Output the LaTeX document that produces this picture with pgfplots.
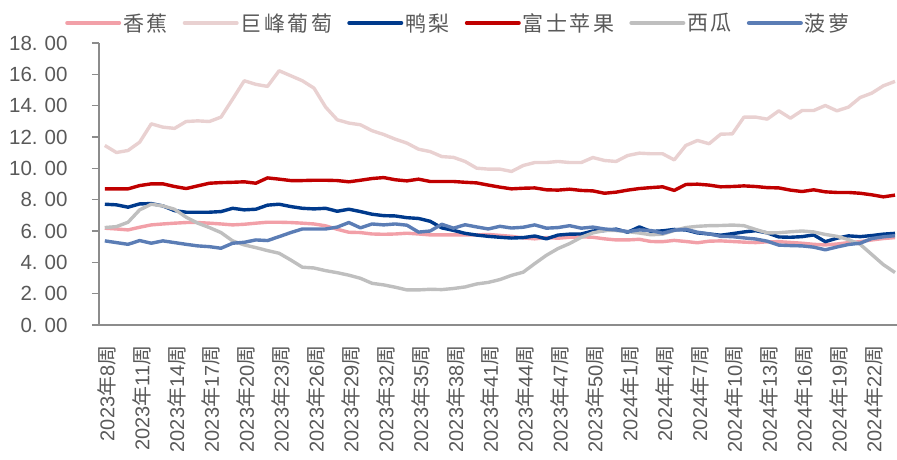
\documentclass[border=0pt]{standalone}
\usepackage{fontspec}
\setmainfont{Liberation Sans}
\newfontfamily\cjk{Noto Sans CJK SC}
\newfontfamily\cjkleg[LetterSpace=12]{Noto Sans CJK SC}
\usepackage{pgfplots}
\usepackage{pgfplotstable}
\pgfplotsset{compat=1.18}
\definecolor{cBanana}{RGB}{242,160,168}
\definecolor{cGrape}{RGB}{233,209,209}
\definecolor{cPear}{RGB}{0,58,140}
\definecolor{cApple}{RGB}{192,0,0}
\definecolor{cMelon}{RGB}{191,191,191}
\definecolor{cPine}{RGB}{91,125,181}
\definecolor{txt}{RGB}{89,89,89}
\definecolor{axc}{RGB}{140,140,140}
\newcommand\nian{{\cjk 年}}
\newcommand\zhou{{\cjk 周}}
\newcommand\yl[2]{#1.\hspace{7pt}#2}
\pgfplotstableread{
i banana grape pear apple melon pine
0 6.18 11.46 7.71 8.69 6.22 5.37
1 6.13 11.01 7.67 8.69 6.28 5.26
2 6.07 11.14 7.52 8.69 6.56 5.15
3 6.24 11.67 7.73 8.90 7.35 5.39
4 6.39 12.84 7.75 9.01 7.71 5.22
5 6.45 12.63 7.60 9.01 7.60 5.37
6 6.50 12.55 7.30 8.84 7.39 5.26
7 6.54 12.99 7.20 8.71 6.88 5.15
8 6.54 13.03 7.20 8.88 6.50 5.05
9 6.50 12.99 7.20 9.05 6.22 5.00
10 6.45 13.27 7.24 9.09 5.90 4.90
11 6.39 14.42 7.45 9.11 5.37 5.22
12 6.43 15.59 7.35 9.14 5.11 5.28
13 6.50 15.36 7.39 9.05 4.94 5.43
14 6.56 15.23 7.65 9.39 4.75 5.39
15 6.56 16.23 7.71 9.31 4.58 5.64
16 6.54 15.91 7.56 9.22 4.15 5.90
17 6.50 15.59 7.45 9.22 3.69 6.13
18 6.45 15.12 7.41 9.24 3.64 6.13
19 6.33 13.91 7.45 9.24 3.47 6.13
20 6.11 13.10 7.26 9.22 3.34 6.25
21 5.92 12.89 7.39 9.14 3.18 6.54
22 5.90 12.78 7.24 9.24 2.98 6.20
23 5.81 12.40 7.07 9.35 2.66 6.45
24 5.79 12.16 6.98 9.41 2.56 6.39
25 5.81 11.86 6.96 9.27 2.41 6.45
26 5.86 11.61 6.85 9.20 2.24 6.37
27 5.81 11.22 6.80 9.31 2.24 5.93
28 5.75 11.07 6.62 9.16 2.28 6.00
29 5.75 10.75 6.20 9.16 2.26 6.43
30 5.75 10.70 6.04 9.16 2.33 6.18
31 5.75 10.44 5.85 9.11 2.43 6.40
32 5.75 10.01 5.74 9.07 2.62 6.26
33 5.78 9.95 5.66 8.93 2.72 6.13
34 5.72 9.95 5.60 8.80 2.90 6.30
35 5.66 9.80 5.55 8.69 3.17 6.19
36 5.56 10.18 5.58 8.73 3.37 6.24
37 5.50 10.37 5.68 8.75 3.92 6.39
38 5.58 10.37 5.50 8.63 4.45 6.18
39 5.54 10.44 5.74 8.61 4.88 6.22
40 5.60 10.37 5.80 8.67 5.20 6.34
41 5.63 10.37 5.81 8.59 5.60 6.18
42 5.60 10.69 6.00 8.56 5.88 6.25
43 5.50 10.50 6.03 8.41 6.03 6.13
44 5.43 10.44 6.12 8.48 6.03 6.07
45 5.43 10.82 5.92 8.61 5.96 5.96
46 5.47 10.97 6.26 8.71 5.87 6.07
47 5.33 10.93 5.97 8.77 5.76 6.03
48 5.32 10.93 6.01 8.82 5.80 5.86
49 5.40 10.54 6.10 8.59 6.03 6.05
50 5.33 11.46 6.07 8.97 6.22 6.11
51 5.25 11.78 5.88 8.99 6.30 5.92
52 5.35 11.57 5.81 8.93 6.34 5.82
53 5.37 12.18 5.73 8.82 6.35 5.66
54 5.33 12.20 5.83 8.84 6.38 5.64
55 5.29 13.27 5.94 8.88 6.34 5.56
56 5.26 13.27 6.02 8.84 6.10 5.49
57 5.31 13.14 5.88 8.77 5.88 5.35
58 5.32 13.67 5.62 8.75 5.89 5.10
59 5.27 13.20 5.60 8.61 5.95 5.07
60 5.22 13.69 5.64 8.52 6.00 5.05
61 5.15 13.69 5.75 8.63 5.94 4.97
62 5.11 14.01 5.32 8.50 5.78 4.80
63 5.17 13.67 5.54 8.46 5.66 4.98
64 5.26 13.91 5.69 8.46 5.45 5.14
65 5.32 14.52 5.64 8.41 5.15 5.22
66 5.43 14.80 5.71 8.31 4.50 5.52
67 5.52 15.27 5.80 8.18 3.85 5.63
68 5.58 15.55 5.85 8.29 3.35 5.70
}\datatable
\begin{document}
\begin{tikzpicture}
\begin{axis}[
  at={(0,0)}, anchor=south west,
  scale only axis, width=798pt, height=282pt,
  xmin=-0.5, xmax=68.17, ymin=0, ymax=18,
  axis x line*=bottom, axis y line*=left,
  axis line style={draw=axc, line width=1.3pt},
  ytick={0,2,...,18},
  yticklabels={\yl{0}{00},\yl{2}{00},\yl{4}{00},\yl{6}{00},\yl{8}{00},\yl{10}{00},\yl{12}{00},\yl{14}{00},\yl{16}{00},\yl{18}{00}},
  tick align=outside, major tick length=7pt,
  ytick style={draw=axc, line width=1.2pt},
  xtick style={draw=none},
  xtick={0,3,...,66},
  xticklabels={2023\nian 8\zhou,2023\nian 11\zhou,2023\nian 14\zhou,2023\nian 17\zhou,2023\nian 20\zhou,2023\nian 23\zhou,2023\nian 26\zhou,2023\nian 29\zhou,2023\nian 32\zhou,2023\nian 35\zhou,2023\nian 38\zhou,2023\nian 41\zhou,2023\nian 44\zhou,2023\nian 47\zhou,2023\nian 50\zhou,2024\nian 1\zhou,2024\nian 4\zhou,2024\nian 7\zhou,2024\nian 10\zhou,2024\nian 13\zhou,2024\nian 16\zhou,2024\nian 19\zhou,2024\nian 22\zhou},
  yticklabel style={font=\fontsize{20.5}{22}\selectfont, text=txt, xshift=-21pt},
  xticklabel style={font=\fontsize{20}{22}\selectfont, text=txt, yshift=-10pt, xshift=2pt, rotate=90, anchor=east},
  every axis plot/.append style={line width=3.4pt, line join=round, no markers},
  legend columns=6,
  legend style={at={(-0.0426,1.071)}, anchor=west, draw=none, fill=none,
    font=\cjkleg\fontsize{21}{23}\selectfont, text=txt, nodes={text=txt}, inner sep=0pt,
    /tikz/every even column/.append style={column sep=13pt}},
  legend image code/.code={\draw[#1, line width=4pt, line cap=round] (0pt,0pt) -- (52pt,0pt);},
]
\addplot[cBanana] table[x=i, y=banana] {\datatable};
\addlegendentry{香蕉\hspace{8pt}}
\addplot[cGrape] table[x=i, y=grape] {\datatable};
\addlegendentry{巨峰葡萄}
\addplot[cPear] table[x=i, y=pear] {\datatable};
\addlegendentry{鸭梨\hspace{8pt}}
\addplot[cApple] table[x=i, y=apple] {\datatable};
\addlegendentry{富士苹果}
\addplot[cMelon] table[x=i, y=melon] {\datatable};
\addlegendentry{西瓜\hspace{8pt}}
\addplot[cPine] table[x=i, y=pine] {\datatable};
\addlegendentry{菠萝}
\end{axis}
\pgfresetboundingbox
\path[use as bounding box] (-99pt,-134pt) rectangle (798pt,325pt);
\end{tikzpicture}
\end{document}
